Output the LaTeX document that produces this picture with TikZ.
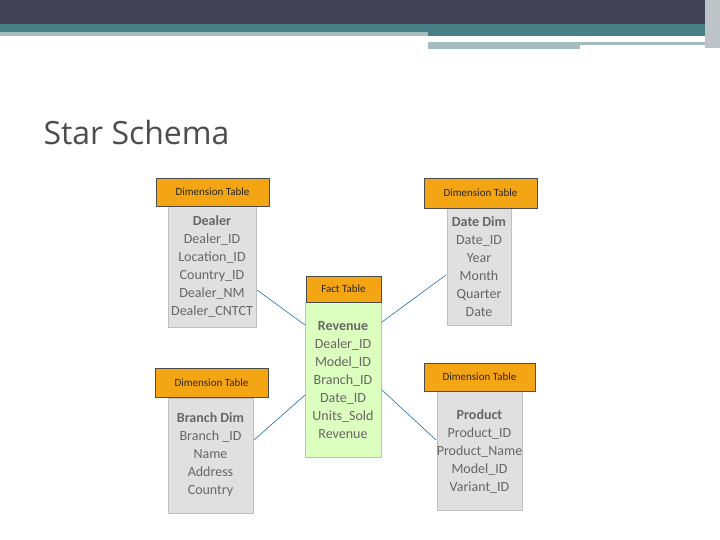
\documentclass[tikz,border=0pt]{standalone}
\usepackage{fontspec}
\setmainfont{Carlito}
\newfontfamily\titlefont{Open Sans}
\definecolor{amber}{RGB}{243,165,20}
\begin{document}
\begin{tikzpicture}[x=1pt,y=-1pt,
  hdr/.style={fill=amber,draw=black!70,line width=0.8pt,font=\fontsize{11}{12}\selectfont,text=black!85,anchor=center},
  bodybox/.style={fill=black!12,draw=black!25},
  fld/.style={font=\fontsize{14}{18}\selectfont,text=black!60,align=center},
  lnk/.style={draw=blue!40!cyan!60!black,line width=0.5pt}]
\useasboundingbox (0,0) rectangle (720,540);
\fill[fill={rgb,255:red,65;green,66;blue,86}] (0,0) rectangle (720,24);
\fill[fill={rgb,255:red,70;green,127;blue,132}] (0,24) rectangle (705,32);
\fill[fill={rgb,255:red,70;green,127;blue,132}] (428,32) rectangle (705,36);
\fill[fill={rgb,255:red,163;green,188;blue,192}] (0,32) rectangle (428,36);
\fill[fill={rgb,255:red,163;green,188;blue,192}] (428,42) rectangle (580,49);
\fill[fill={rgb,255:red,163;green,188;blue,192}] (580,42) rectangle (710,45);
\fill[fill={rgb,255:red,190;green,195;blue,200}] (705,0) rectangle (720,48);
\node[anchor=west,font=\titlefont\fontsize{32}{36}\selectfont,text=black!70] (title) at (40,133) {Star Schema};
% Dealer
\fill[bodybox] (168,206) rectangle (256,327);
\node[fld] (dealer) at (212,267) {\textbf{Dealer}\\Dealer\_ID\\Location\_ID\\Country\_ID\\Dealer\_NM\\Dealer\_CNTCT};
\node[hdr,minimum width=113pt,minimum height=28pt] (h1) at (212.5,192) {Dimension Table};
% Date
\fill[bodybox] (447,208) rectangle (511,325);
\node[fld] (date) at (479,267) {\textbf{Date Dim}\\Date\_ID\\Year\\Month\\Quarter\\Date};
\node[hdr,minimum width=113pt,minimum height=30pt] (h2) at (480.5,193) {Dimension Table};
% Fact
\fill[fill=green!55!yellow!25,draw=black!25] (305,302) rectangle (381,457);
\node[fld] (fact) at (343,380) {\textbf{Revenue}\\Dealer\_ID\\Model\_ID\\Branch\_ID\\Date\_ID\\Units\_Sold\\Revenue};
\node[hdr,minimum width=75pt,minimum height=26pt] (h3) at (343.5,289) {Fact Table};
% Branch
\fill[bodybox] (168,398) rectangle (253,513);
\node[fld] (branch) at (210.5,455) {\textbf{Branch Dim}\\Branch \_ID\\Name\\Address\\Country};
\node[hdr,minimum width=113pt,minimum height=29pt] (h4) at (211.5,383) {Dimension Table};
% Product
\fill[bodybox] (437,391) rectangle (522,510);
\node[fld] (product) at (479.5,452) {\textbf{Product}\\Product\_ID\\Product\_Name\\Model\_ID\\Variant\_ID};
\node[hdr,minimum width=111pt,minimum height=28pt] (h5) at (479.5,377) {Dimension Table};
\coordinate (a1) at (257,290); \coordinate (b1) at (305,325);
\coordinate (a2) at (446,275); \coordinate (b2) at (382,322);
\coordinate (a3) at (254,440); \coordinate (b3) at (305,395);
\coordinate (a4) at (436,440); \coordinate (b4) at (382,390);
\draw[lnk] (a1) -- (b1); \draw[lnk] (a2) -- (b2);
\draw[lnk] (a3) -- (b3); \draw[lnk] (a4) -- (b4);
\end{tikzpicture}
\end{document}
